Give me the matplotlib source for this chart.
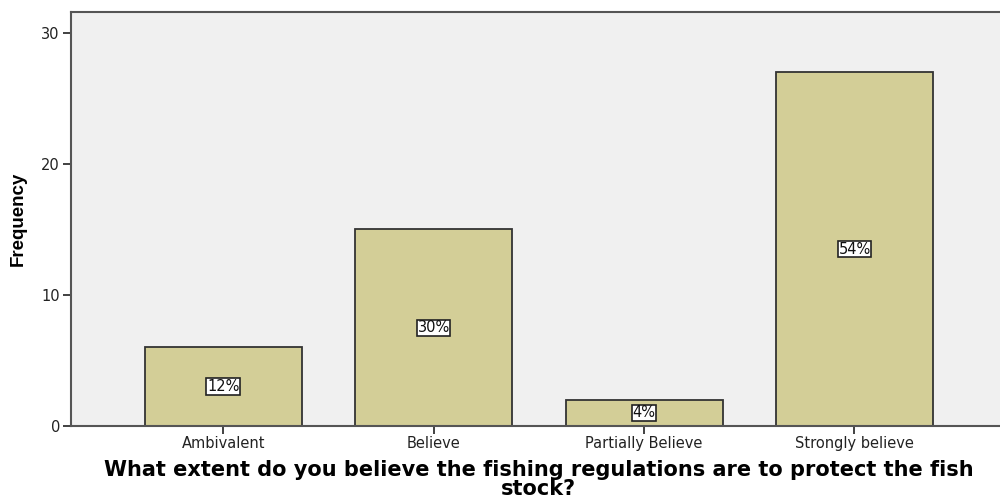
import matplotlib
matplotlib.use('Agg')
import matplotlib.pyplot as plt

cats = ['Ambivalent', 'Believe', 'Partially Believe', 'Strongly believe']
freq = [6, 15, 2, 27]
pct = ['12%', '30%', '4%', '54%']
yticks = [0, 10, 20, 30]

plt.rcParams['font.family'] = ['DejaVu Sans']
fig = plt.figure(figsize=(10, 5), dpi=100)
ax = fig.add_axes([0.071, 0.148, 0.935, 0.828])
ax.set_facecolor('#f0f0f0')
x = range(len(cats))
ax.bar(x, freq, width=0.746, color='#d3ce97', edgecolor='#333333', lw=1.3, zorder=2)
for i, (f, p) in enumerate(zip(freq, pct)):
    ax.text(i, f / 2, p, ha='center', va='center', fontsize=10.5, color='#111', zorder=3,
            bbox=dict(boxstyle='square,pad=0.05', fc='white', ec='#222', lw=1.2))
ax.set_xlim(-0.723, 3.72)
ax.set_ylim(0, 31.6)
ax.set_yticks(yticks)
ax.set_xticks(list(x))
ax.set_xticklabels(cats, fontsize=10.5, color='#222')
ax.tick_params(axis='y', labelsize=10.5, labelcolor='#222', length=6, width=1.3, color='#333', pad=2)
ax.tick_params(axis='x', length=6, width=1.3, color='#333', pad=1)
for s in ['left', 'top', 'bottom']:
    ax.spines[s].set_color('#555')
    ax.spines[s].set_linewidth(1.5)
ax.spines['right'].set_visible(False)
ax.set_ylabel('Frequency', fontsize=13.5, fontweight='bold', family=['Liberation Sans Narrow', 'Liberation Sans'], labelpad=10)
ax.set_xlabel('What extent do you believe the fishing regulations are to protect the fish\nstock?',
              fontsize=15, fontweight='bold', linespacing=0.92, labelpad=7)
fig.savefig('out.png', dpi=100)
